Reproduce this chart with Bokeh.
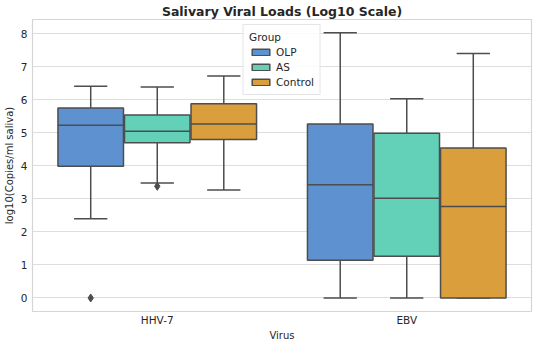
from bokeh.plotting import figure
from bokeh.models import ColumnDataSource, FixedTicker, Legend, LegendItem, Range1d, FactorRange
from bokeh.transform import dodge
from bokeh.embed import file_html
from bokeh.resources import INLINE

# ---- data ----
viruses = ["HHV-7", "EBV"]
groups = ["OLP", "AS", "Control"]
colors = ["#5d91cf", "#62d1b8", "#db9e3d"]

olp_lower = [2.40, 0.00]
olp_q1 = [3.99, 1.14]
olp_median = [5.23, 3.43]
olp_q3 = [5.75, 5.27]
olp_upper = [6.41, 8.03]

as_lower = [3.48, 0.00]
as_q1 = [4.70, 1.26]
as_median = [5.05, 3.02]
as_q3 = [5.54, 4.99]
as_upper = [6.39, 6.03]

control_lower = [3.27, 0.00]
control_q1 = [4.80, 0.00]
control_median = [5.27, 2.77]
control_q3 = [5.88, 4.54]
control_upper = [6.72, 7.40]

outlier_virus = ["HHV-7", "HHV-7"]
outlier_group = ["OLP", "AS"]
outlier_value = [0.00, 3.38]

y_ticks = [0, 1, 2, 3, 4, 5, 6, 7, 8]

stats = {
    "OLP": (olp_lower, olp_q1, olp_median, olp_q3, olp_upper),
    "AS": (as_lower, as_q1, as_median, as_q3, as_upper),
    "Control": (control_lower, control_q1, control_median, control_q3, control_upper),
}

# ---- figure ----
FONT = "DejaVu Sans"
TEXT = "#262626"
LINE = "#4d4d4d"

p = figure(
    x_range=FactorRange(*viruses),
    y_range=Range1d(-0.41, 8.43),
    width=534, height=343,
    output_backend="svg", toolbar_location=None,
    title="Salivary Viral Loads (Log10 Scale)",
    min_border_left=0, min_border_right=3, min_border_top=0, min_border_bottom=0,
)
p.title.text_font = FONT
p.title.text_font_size = "12.5px"
p.title.text_font_style = "bold"
p.title.text_color = TEXT
p.title.align = "center"
p.title.standoff = 2

p.background_fill_color = "white"
p.border_fill_color = "white"
p.outline_line_color = "#d5d5d5"
p.outline_line_width = 1.2

p.xgrid.grid_line_color = None
p.ygrid.grid_line_color = "#dedede"
p.ygrid.grid_line_width = 1

p.yaxis.ticker = FixedTicker(ticks=y_ticks)
for ax in (p.xaxis[0], p.yaxis[0]):
    ax.axis_line_color = None
    ax.major_tick_line_color = None
    ax.minor_tick_line_color = None
    ax.major_tick_out = 0
    ax.major_tick_in = 0
    ax.minor_tick_out = 0
    ax.minor_tick_in = 0
    ax.major_label_text_font = FONT
    ax.major_label_text_font_size = "10.5px"
    ax.major_label_text_color = TEXT
    ax.axis_label_text_font = FONT
    ax.axis_label_text_font_size = "10px"
    ax.axis_label_text_font_style = "normal"
    ax.axis_label_text_color = TEXT
p.xaxis.axis_label = "Virus"
p.yaxis.axis_label = "log10(Copies/ml saliva)"
p.xaxis.major_label_standoff = 2
p.xaxis.axis_label_standoff = 1
p.yaxis.major_label_standoff = 5
p.yaxis.axis_label_standoff = 3

box_w = 0.8 / 3
draw_w = box_w * 0.985
cap_w = box_w * 0.5
offsets = [-box_w, 0.0, box_w]

legend_items = []
for g, off, col in zip(groups, offsets, colors):
    lo, q1, med, q3, hi = stats[g]
    src = ColumnDataSource(dict(virus=viruses, lower=lo, q1=q1, median=med, q3=q3, upper=hi))
    xc = dodge("virus", off, range=p.x_range)
    # whiskers
    p.segment(x0=xc, y0="q3", x1=xc, y1="upper", source=src, line_color=LINE, line_width=1.5)
    p.segment(x0=xc, y0="q1", x1=xc, y1="lower", source=src, line_color=LINE, line_width=1.5)
    # caps
    p.segment(x0=dodge("virus", off - cap_w / 2, range=p.x_range), y0="upper",
              x1=dodge("virus", off + cap_w / 2, range=p.x_range), y1="upper",
              source=src, line_color=LINE, line_width=1.5)
    p.segment(x0=dodge("virus", off - cap_w / 2, range=p.x_range), y0="lower",
              x1=dodge("virus", off + cap_w / 2, range=p.x_range), y1="lower",
              source=src, line_color=LINE, line_width=1.5)
    # box
    r = p.vbar(x=xc, width=draw_w, bottom="q1", top="q3", source=src,
               fill_color=col, line_color=LINE, line_width=1.5)
    # median
    p.segment(x0=dodge("virus", off - draw_w / 2, range=p.x_range), y0="median",
              x1=dodge("virus", off + draw_w / 2, range=p.x_range), y1="median",
              source=src, line_color=LINE, line_width=1.5)
    legend_items.append(LegendItem(label=g, renderers=[r]))

    # outliers for this group
    ov = [v for v, gg in zip(outlier_virus, outlier_group) if gg == g]
    oy = [y for y, gg in zip(outlier_value, outlier_group) if gg == g]
    if ov:
        osrc = ColumnDataSource(dict(virus=ov, value=oy))
        p.scatter(x=dodge("virus", off, range=p.x_range), y="value", source=osrc,
                  marker="diamond", size=8, fill_color=LINE, line_color=LINE)

legend = Legend(items=legend_items, location="top_center", title="Group")
legend.title_text_font = FONT
legend.title_text_font_size = "10.5px"
legend.title_text_font_style = "normal"
legend.title_text_color = TEXT
legend.title_standoff = 3
legend.label_text_font = FONT
legend.label_text_font_size = "10.5px"
legend.label_text_color = TEXT
legend.glyph_width = 22
legend.glyph_height = 8
legend.label_height = 12
legend.spacing = 3
legend.padding = 6
legend.margin = 5
legend.border_line_color = "#cccccc"
legend.border_line_width = 1
legend.background_fill_color = "white"
legend.background_fill_alpha = 0.85
p.add_layout(legend)

open("out.html", "w").write(file_html(p, INLINE))
